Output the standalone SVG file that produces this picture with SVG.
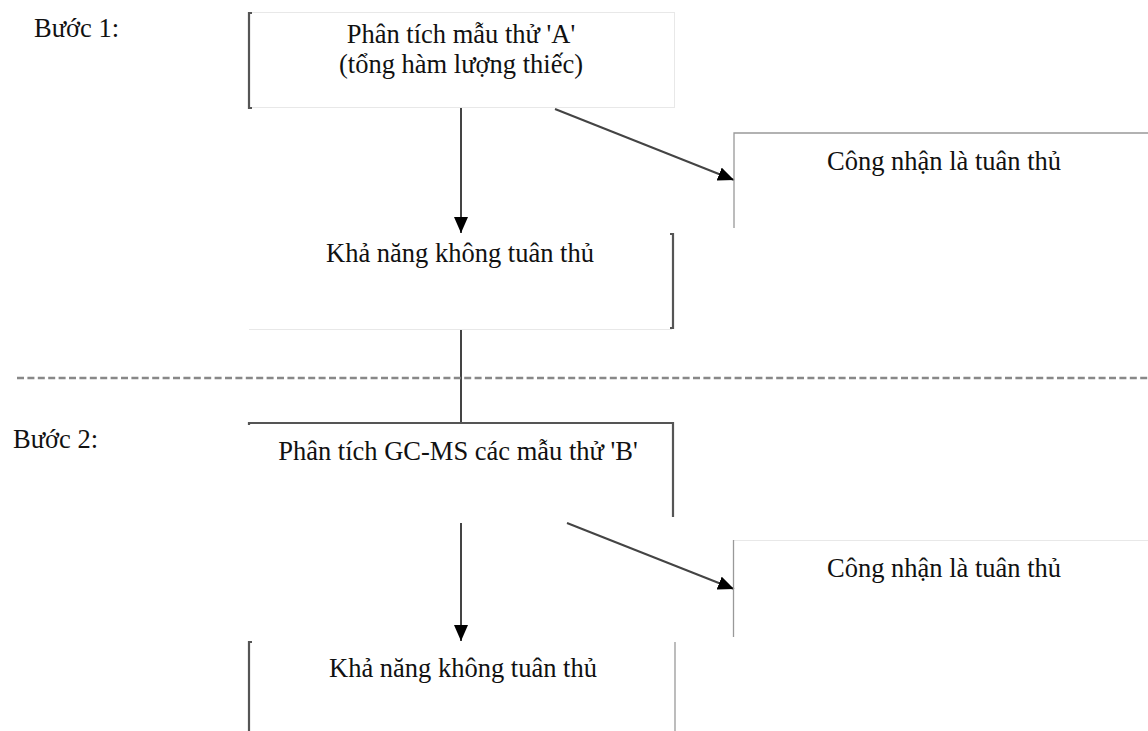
<svg xmlns="http://www.w3.org/2000/svg" width="1148" height="731" viewBox="0 0 1148 731">
<style>
text{font-family:"Liberation Serif","Times New Roman",serif;font-size:26.5px;fill:#111}
.c{text-anchor:middle}
.faint{fill:none;stroke:#e8e8e8;stroke-width:1}
.dark{fill:none;stroke:#555;stroke-width:2.2}
.mid{fill:none;stroke:#999;stroke-width:1.3}
.conn{fill:none;stroke:#444;stroke-width:2}
</style>
<defs>
<marker id="ah" viewBox="0 0 16 14" refX="16" refY="7" markerWidth="16" markerHeight="14" markerUnits="userSpaceOnUse" orient="auto">
<path d="M0,0 L16,7 L0,14 Z" fill="#000"/>
</marker>
</defs>
<rect width="1148" height="731" fill="#fff"/>
<text x="34" y="37">Bước 1:</text>
<text x="13" y="448">Bước 2:</text>
<g id="connectors">
<line class="conn" x1="461" y1="108" x2="461" y2="233" marker-end="url(#ah)"/>
<line class="conn" x1="555" y1="109" x2="734" y2="180" marker-end="url(#ah)"/>
<line class="conn" x1="461" y1="330" x2="461" y2="423"/>
<line x1="17" y1="378" x2="1148" y2="378" stroke="#888" stroke-width="2.5" stroke-dasharray="7 3.4"/>
<line class="conn" x1="461" y1="523" x2="461" y2="641" marker-end="url(#ah)"/>
<line class="conn" x1="567" y1="523" x2="734" y2="589" marker-end="url(#ah)"/>
</g>
<g id="boxA">
<rect class="faint" x="249.5" y="12.5" width="425" height="95"/>
<path class="dark" d="M252,13 L249,13 L249,108 L252,108"/>
<text class="c" x="461" y="43">Phân tích mẫu thử 'A'</text>
<text class="c" x="461" y="73">(tổng hàm lượng thiếc)</text>
</g>
<g id="accept1">
<path class="mid" d="M734,228 L734,133 L1148,133"/>
<text class="c" x="944" y="170">Công nhận là tuân thủ</text>
</g>
<g id="noncomp1">
<path class="faint" d="M249,329.5 L672,329.5"/>
<path class="dark" d="M670,234 L673,234 L673,328 L670,328"/>
<text class="c" x="460" y="262">Khả năng không tuân thủ</text>
</g>
<g id="boxB">
<path class="dark" d="M249,425 L249,423 L673,423 L673,517"/>
<text class="c" x="458" y="460">Phân tích GC-MS các mẫu thử 'B'</text>
</g>
<g id="accept2">
<path class="faint" d="M734,540.5 L1148,540.5"/>
<path class="mid" d="M733.5,540 L733.5,637"/>
<text class="c" x="944" y="577">Công nhận là tuân thủ</text>
</g>
<g id="noncomp2">
<path class="dark" d="M252,642 L249,642 L249,731"/>
<path class="mid" d="M675,642 L675,731" stroke="#ccc"/>
<text class="c" x="463" y="677">Khả năng không tuân thủ</text>
</g>
</svg>
